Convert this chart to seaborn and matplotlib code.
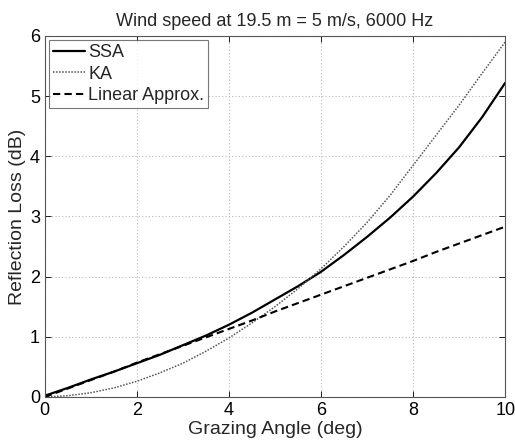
import matplotlib
matplotlib.use("Agg")
import matplotlib.pyplot as plt
import seaborn as sns
import pandas as pd

angles = [0, 0.5, 1, 1.5, 2, 2.5, 3, 3.5, 4, 4.5, 5, 5.5, 6, 6.5, 7, 7.5, 8, 8.5, 9, 9.5, 10]
ssa = [0.02, 0.15, 0.29, 0.42, 0.56, 0.70, 0.86, 1.02, 1.20, 1.40, 1.62, 1.84, 2.08, 2.36,
       2.66, 2.98, 3.33, 3.72, 4.15, 4.65, 5.22]
ka = [0.0, 0.02, 0.07, 0.15, 0.26, 0.40, 0.56, 0.76, 0.98, 1.23, 1.50, 1.80, 2.13, 2.50,
      2.90, 3.35, 3.85, 4.35, 4.85, 5.38, 5.90]
linear = [0.0, 0.14, 0.28, 0.42, 0.57, 0.71, 0.85, 0.99, 1.13, 1.27, 1.42, 1.56, 1.70, 1.84,
          1.98, 2.12, 2.26, 2.41, 2.55, 2.69, 2.83]
series_names = ["SSA", "KA", "Linear Approx."]
title = "Wind speed at 19.5 m = 5 m/s, 6000 Hz"
xticks = [0, 2, 4, 6, 8, 10]
yticks = [0, 1, 2, 3, 4, 5, 6]

df = pd.DataFrame({"angle": angles * 3,
                   "loss": ssa + ka + linear,
                   "model": [series_names[0]] * len(angles) + [series_names[1]] * len(angles)
                            + [series_names[2]] * len(angles)})

sns.set_theme(style="white")
plt.rcParams['font.family'] = ['Liberation Sans', 'DejaVu Sans']

fig = plt.figure(figsize=(5.15, 4.43), dpi=100)
ax = fig.add_axes([0.087, 0.104, 0.894, 0.815])

styles = {"SSA": dict(ls="-", lw=1.6, c="black"), "KA": dict(ls=(0, (1, 1)), lw=1.1, c="#555555"),
          "Linear Approx.": dict(ls=(0, (3.5, 2)), lw=1.5, c="black")}
for name in series_names:
    sub = df[df.model == name]
    sns.lineplot(data=sub, x="angle", y="loss", ax=ax, color=styles[name]["c"], label=name,
                 linestyle=styles[name]["ls"], linewidth=styles[name]["lw"])

ax.set_xlim(0, 10)
ax.set_ylim(0, 6)
ax.set_xticks(xticks)
ax.set_yticks(yticks)
ax.grid(True, color="#bbbbbb", linestyle=(0, (1, 2)), linewidth=0.8)
ax.tick_params(direction="in", length=4, labelsize=13, colors="black", width=0.6,
               top=True, right=True, bottom=True, left=True)
ax.tick_params(axis="x", pad=4)
ax.tick_params(axis="y", pad=3.5)
for s in ax.spines.values():
    s.set_color("#555555")
    s.set_linewidth(0.8)
ax.set_xlabel("Grazing Angle (deg)", fontsize=14, labelpad=1)
ax.set_ylabel("Reflection Loss (dB)", fontsize=14, labelpad=3)
ax.set_title(title, fontsize=13, pad=7)
leg = ax.legend(loc="upper left", fontsize=13, frameon=True, fancybox=False,
                edgecolor="#555555", borderpad=0.2, labelspacing=0.25,
                handlelength=1.75, handletextpad=0.2, borderaxespad=0.25)
leg.get_frame().set_linewidth(0.8)
fig.savefig("out.png", dpi=100, facecolor="white")
